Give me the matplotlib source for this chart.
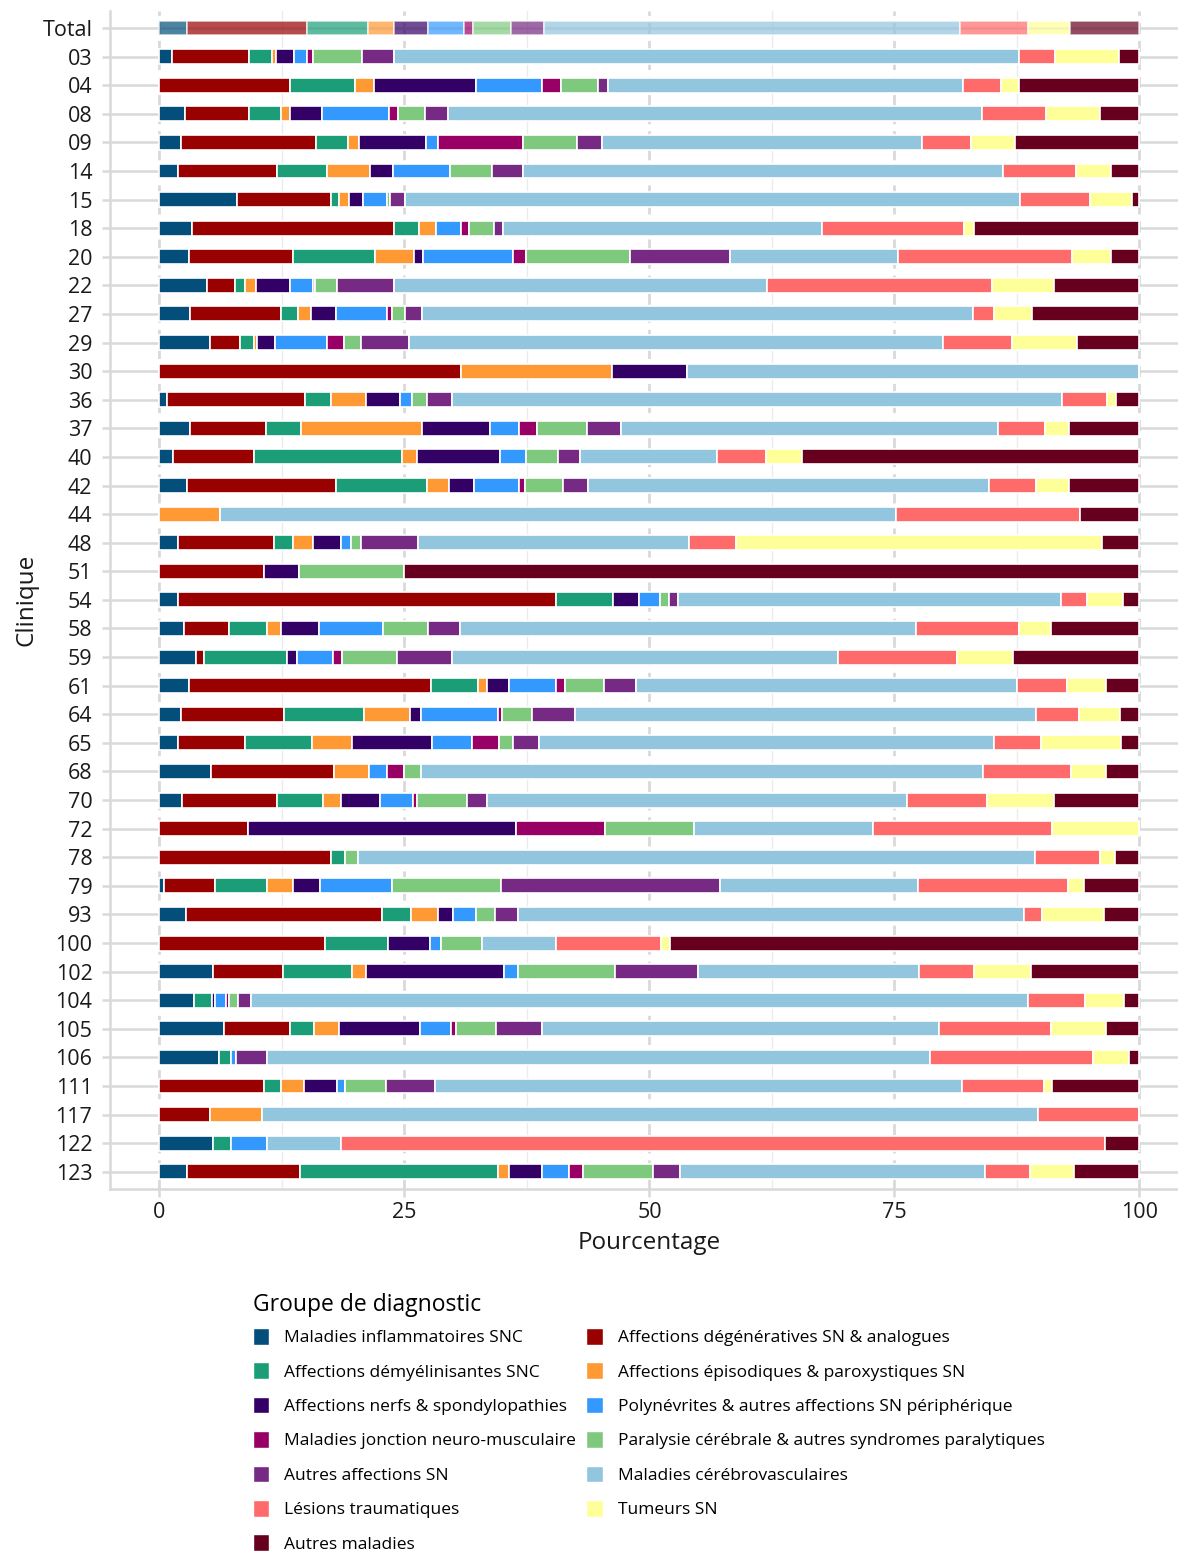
import matplotlib
matplotlib.use("Agg")
import matplotlib.pyplot as plt
from matplotlib.patches import Rectangle
import numpy as np

plt.rcParams['font.family'] = ['Open Sans', 'DejaVu Sans']

cliniques = ["Total", "03", "04", "08", "09", "14", "15", "18", "20", "22",
             "27", "29", "30", "36", "37", "40", "42", "44", "48", "51",
             "54", "58", "59", "61", "64", "65", "68", "70", "72", "78",
             "79", "93", "100", "102", "104", "105", "106", "111", "117", "122",
             "123"]

groupes = ["Maladies inflammatoires SNC",
           "Affections dégénératives SN & analogues",
           "Affections démyélinisantes SNC",
           "Affections épisodiques & paroxystiques SN",
           "Affections nerfs & spondylopathies",
           "Polynévrites & autres affections SN périphérique",
           "Maladies jonction neuro-musculaire",
           "Paralysie cérébrale & autres syndromes paralytiques",
           "Autres affections SN",
           "Maladies cérébrovasculaires",
           "Lésions traumatiques",
           "Tumeurs SN",
           "Autres maladies"]

couleurs = ["#034E7B", "#990000", "#1B9E77", "#FF9933", "#330066", "#3399FF",
            "#990066", "#7FC97F", "#762A83", "#92C5DE", "#FF6B6B", "#FFFF99",
            "#67001F"]

inflam = [2.77, 1.27, 0, 2.64, 2.19, 1.86, 7.93, 3.36, 2.97, 4.86,
          3.16, 5.19, 0, 0.82, 3.16, 1.34, 2.77, 0, 1.86, 0,
          1.86, 2.51, 3.69, 2.97, 2.25, 1.92, 5.25, 2.32, 0, 0,
          0.42, 2.71, 0, 5.51, 3.49, 6.56, 6.04, 0, 0, 5.45,
          2.77]
degen = [12.34, 7.83, 13.28, 6.46, 13.76, 10.18, 9.53, 20.56, 10.64, 2.81,
         9.27, 3.06, 30.77, 14.03, 7.70, 8.35, 15.21, 0, 9.85, 10.67,
         38.63, 4.57, 0.91, 24.73, 10.51, 6.86, 12.53, 9.65, 9.04, 17.52,
         5.29, 19.97, 16.93, 7.12, 0, 6.72, 0, 10.67, 5.19, 0,
         11.55]
demyel = [6.13, 2.35, 6.65, 3.27, 3.27, 5.09, 0.91, 2.54, 8.35, 1.11,
          1.76, 1.37, 0, 2.61, 3.59, 15.07, 9.33, 0, 1.96, 0,
          5.81, 3.91, 8.42, 4.83, 8.09, 6.78, 0, 4.70, 0, 1.37,
          5.28, 3.00, 6.40, 6.98, 1.89, 2.54, 1.24, 1.70, 0, 1.89,
          20.23]
episod = [2.74, 0.46, 1.96, 0.91, 1.11, 4.31, 0.98, 1.76, 3.98, 1.04,
          1.31, 0.30, 15.40, 3.65, 12.34, 1.50, 2.22, 6.17, 1.96, 0,
          0, 1.38, 0, 0.85, 4.70, 4.11, 3.59, 1.83, 0, 0,
          2.68, 2.74, 0, 1.43, 0, 2.55, 0, 2.41, 5.28, 0,
          1.11]
nerfs = [3.39, 1.83, 10.44, 3.26, 6.91, 2.35, 1.43, 0, 0.91, 3.46,
         2.48, 1.86, 7.70, 3.39, 6.91, 8.49, 2.54, 0, 2.93, 3.59,
         2.61, 3.91, 0.98, 2.28, 1.17, 8.16, 0, 4.04, 27.34, 0,
         2.68, 1.57, 4.24, 14.16, 0.26, 8.22, 0, 3.39, 0, 0,
         3.39]
polynev = [3.66, 1.36, 6.72, 6.85, 1.18, 5.87, 2.48, 2.55, 9.27, 2.41,
           5.28, 5.35, 0, 1.31, 2.94, 2.61, 4.57, 0, 0.98, 0,
           2.15, 6.53, 3.72, 4.83, 7.83, 4.11, 1.83, 3.33, 0, 0,
           7.37, 2.34, 1.17, 1.37, 1.18, 3.13, 0.58, 0.79, 0, 3.65,
           2.75]
jonction = [0.98, 0.53, 1.89, 0.92, 8.68, 0, 0, 0.78, 1.30, 0.20,
            0.46, 1.70, 0, 0, 1.89, 0, 0.65, 0, 0, 0,
            0, 0, 0.91, 0.85, 0.39, 2.68, 1.76, 0.39, 9.07, 0,
            0, 0, 0, 0, 0.26, 0.53, 0, 0, 0, 0,
            1.37]
paralysie = [3.85, 5.02, 3.81, 2.80, 5.54, 4.31, 0.30, 2.61, 10.64, 2.22,
             1.30, 1.76, 0, 1.50, 5.09, 3.26, 3.85, 0, 0.98, 10.70,
             0.91, 4.63, 5.61, 4.04, 3.07, 1.43, 1.76, 5.09, 9.13, 1.37,
             11.16, 1.90, 4.18, 9.92, 0.98, 4.11, 0, 4.11, 0, 0,
             7.18]
autres_sn = [3.39, 3.26, 1.02, 2.35, 2.55, 3.13, 1.53, 0.91, 10.11, 5.81,
             1.77, 4.83, 0, 2.54, 3.46, 2.28, 2.61, 0, 5.88, 0,
             0.91, 3.26, 5.61, 3.20, 4.37, 2.68, 0, 2.03, 0, 0,
             22.31, 2.35, 0, 8.48, 1.24, 4.63, 3.07, 5.02, 0, 0,
             2.74]
cerebro = [42.41, 63.75, 36.23, 54.49, 32.63, 49.00, 62.71, 32.57, 17.23, 38.04,
           56.18, 54.55, 46.13, 62.25, 38.50, 14.03, 40.92, 68.98, 27.60, 0,
           39.09, 46.53, 39.42, 38.89, 47.11, 46.46, 57.36, 42.93, 18.28, 69.10,
           20.16, 51.61, 7.50, 22.58, 79.35, 40.59, 67.73, 53.83, 79.15, 7.51,
           31.12]
lesions = [6.92, 3.72, 3.84, 6.46, 5.02, 7.38, 7.11, 14.48, 17.68, 23.04,
           2.22, 6.98, 0, 4.57, 4.76, 4.96, 4.82, 18.78, 4.83, 0,
           2.68, 10.44, 12.13, 5.09, 4.38, 4.76, 8.94, 8.16, 18.20, 6.66,
           15.34, 1.89, 10.71, 5.61, 5.74, 11.35, 16.58, 8.29, 10.38, 77.98,
           4.63]
tumeurs = [4.37, 6.52, 1.89, 5.61, 4.50, 3.58, 4.31, 0.98, 3.98, 6.32,
           3.85, 6.72, 0, 0.98, 2.48, 3.66, 3.27, 0, 37.39, 0,
           3.65, 3.33, 5.68, 3.98, 4.11, 8.16, 3.59, 6.85, 8.94, 1.44,
           1.63, 6.27, 0.97, 5.81, 3.98, 5.61, 3.72, 0.85, 0, 0,
           4.51]
autres_maladies = [7.05, 2.09, 12.27, 3.98, 12.66, 2.94, 0.78, 16.90, 2.94, 8.68,
                   10.96, 6.33, 0, 2.35, 7.18, 34.45, 7.24, 6.07, 3.78, 75.04,
                   1.70, 9.00, 12.92, 3.46, 2.02, 1.89, 3.39, 8.68, 0, 2.54,
                   5.68, 3.65, 47.90, 11.03, 1.63, 3.46, 1.04, 8.94, 0, 3.52,
                   6.65]

series = [inflam, degen, demyel, episod, nerfs, polynev, jonction, paralysie,
          autres_sn, cerebro, lesions, tumeurs, autres_maladies]

W, H = 1178, 1551
fig = plt.figure(figsize=(W / 100, H / 100), dpi=100)
ax = fig.add_axes([110.4 / W, 1 - 1189 / H, (1188.5 - 110.4) / W, (1189 - 10.8) / H])

data = np.array(series, dtype=float)
data = data / data.sum(axis=0) * 100.0
y = np.arange(len(cliniques))
left = np.zeros(len(cliniques))
handles = []
for vals, col, lab in zip(data, couleurs, groupes):
    bars = ax.barh(y, vals, left=left, height=0.52, color=col,
                   edgecolor='white', linewidth=1.2, zorder=3)
    bars[0].set_alpha(0.7)
    left += vals
    handles.append(Rectangle((0, 0), 1, 1, facecolor=col, edgecolor='white', linewidth=1))

ax.set_xlim(-5, 105)
ax.set_ylim(len(cliniques) - 0.4, -0.6)
ax.set_yticks(y)
ax.set_yticklabels(cliniques)
ax.set_xticks([0, 25, 50, 75, 100])
ax.set_xticks([12.5, 37.5, 62.5, 87.5], minor=True)

ax.grid(axis='x', which='major', color='#D9D9D9', linestyle=(0, (4, 2.5)), linewidth=2, zorder=0)
ax.grid(axis='x', which='minor', color='#EBEBEB', linestyle='-', linewidth=1, zorder=0)
ax.grid(axis='y', which='major', color='#D9D9D9', linestyle='-', linewidth=1.8, zorder=0)
ax.set_axisbelow(True)

for s in ['top', 'right']:
    ax.spines[s].set_visible(False)
for s in ['left', 'bottom']:
    ax.spines[s].set_color('#D9D9D9')
    ax.spines[s].set_linewidth(1.8)

ax.tick_params(axis='both', which='major', color='#D9D9D9', length=6, width=1.8,
               labelsize=15.5, labelcolor='#1A1A1A')
ax.tick_params(axis='x', which='minor', length=0)
ax.tick_params(axis='y', pad=7)
ax.tick_params(axis='x', pad=3)

ax.set_xlabel("Pourcentage", fontsize=17.5, color='#1A1A1A', labelpad=6)
ax.set_ylabel("Clinique", fontsize=17.5, color='#1A1A1A', labelpad=3)

order = [0, 2, 4, 6, 8, 10, 12, 1, 3, 5, 7, 9, 11]
leg = fig.legend([handles[i] for i in order], [groupes[i] for i in order],
                 loc='upper left', bbox_to_anchor=(246 / W, 1 - 1286 / H),
                 ncol=2, frameon=False, fontsize=12.5,
                 title="Groupe de diagnostic", title_fontsize=16.5,
                 alignment='left', handlelength=0.95, handleheight=1.1,
                 handletextpad=0.85, labelspacing=0.93, columnspacing=0.6,
                 borderaxespad=0)
leg._legend_box.sep = 8

fig.savefig("out.png", dpi=100)
